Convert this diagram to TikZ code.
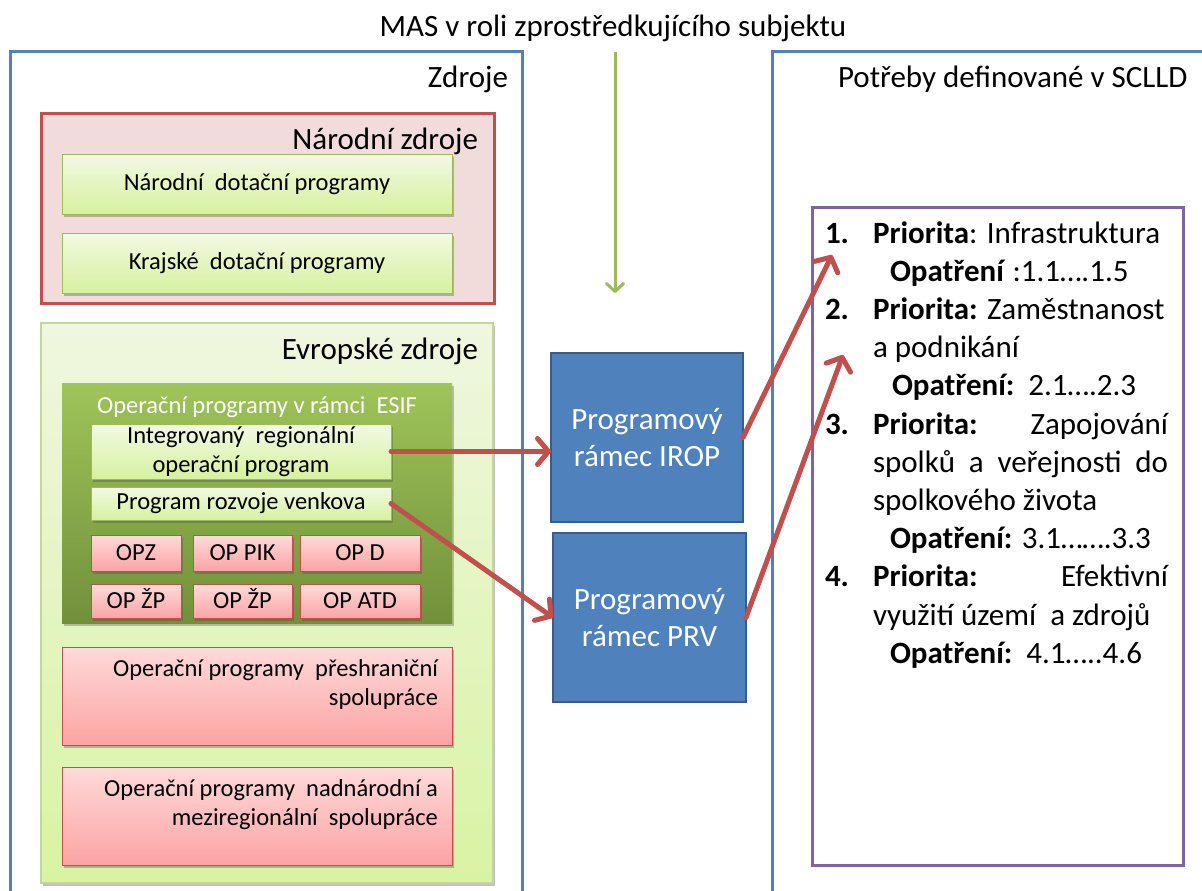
\documentclass[tikz,border=0pt]{standalone}
\usepackage{fontspec}
\setmainfont{Carlito}
\usetikzlibrary{arrows.meta,shadows}
\definecolor{frameblue}{HTML}{4F81BD}
\definecolor{redline}{HTML}{C0504D}
\definecolor{pinkfill}{HTML}{F2DCDB}
\definecolor{greenline}{HTML}{9BBB59}
\definecolor{lgTop}{HTML}{F2F9E4}
\definecolor{lgBot}{HTML}{D6F19E}
\definecolor{euTop}{HTML}{EFF7DF}
\definecolor{euBot}{HTML}{D9F3A3}
\definecolor{euLine}{HTML}{C3D69B}
\definecolor{esTop}{HTML}{9FC45A}
\definecolor{esBot}{HTML}{72903A}
\definecolor{rdTop}{HTML}{FFDADA}
\definecolor{rdBot}{HTML}{FCA3A3}
\definecolor{boxblue}{HTML}{4F81BD}
\definecolor{boxblueline}{HTML}{385D8A}
\definecolor{purpleline}{HTML}{8064A2}
\newcommand\fsBig{\fontsize{31}{37.5}\selectfont}
\newcommand\fsSmall{\fontsize{24.5}{29.5}\selectfont}
\begin{document}
\begin{tikzpicture}[x=1pt,y=-1pt,
  box/.style={rectangle, inner sep=0pt, outer sep=0pt},
  shad/.style={drop shadow={shadow xshift=1.5pt, shadow yshift=-2.5pt, opacity=0.35, fill=black!70}},
  frame/.style={box, draw=frameblue, line width=3pt},
  natbox/.style={box, draw=redline, fill=pinkfill, line width=3pt},
  lgbox/.style={box, draw=greenline, line width=1pt, top color=lgTop, bottom color=lgBot, shad},
  eubox/.style={box, draw=euLine, line width=1.5pt, top color=euTop, bottom color=euBot, shad},
  esbox/.style={box, top color=esTop, bottom color=esBot, shad},
  rdbox/.style={box, draw=redline, line width=1pt, top color=rdTop, bottom color=rdBot, shad},
  opbox/.style={rdbox, font=\fsSmall, text height=16pt, text depth=2pt},
  bluebox/.style={box, draw=boxblueline, fill=boxblue, line width=2.5pt, text=white, align=center, font=\fsBig},
  purplebox/.style={box, draw=purpleline, line width=3pt},
  txt/.style={inner sep=0pt, outer sep=0pt},
  big/.style={txt, font=\fsBig},
  small/.style={txt, font=\fsSmall},
  redarrow/.style={draw=redline, line width=5pt, line cap=round, -{Straight Barb[length=11pt,width=26pt,round]}},
  greenarrow/.style={draw=greenline, line width=3pt, -{Straight Barb[length=8pt,width=17pt,round]}}
]
\path[use as bounding box] (0,0) rectangle (1202,891);
\clip (0,0) rectangle (1202,891);

% frames
\node[frame, minimum width=512pt, minimum height=868pt] (frameL) at (266,486) {};
\node[frame, minimum width=458pt, minimum height=868pt] (frameR) at (1001,486) {};
\node[big, anchor=base] (mas) at (613,37) {MAS v roli zprostředkujícího subjektu};
\node[big, anchor=base east] (zdroje) at (508,88) {Zdroje};
\node[big, anchor=base west] (potreby) at (838,88) {Potřeby definované v SCLLD};

% green arrow
\coordinate (gtop) at (615,52);
\coordinate (gtip) at (615,293);
\draw[greenarrow] (gtop) -- (gtip);

% national sources
\node[natbox, minimum width=453pt, minimum height=190pt] (nat) at (267.5,208) {};
\node[big, anchor=base east] (natT) at (478,149) {Národní zdroje};
\node[lgbox, small, minimum width=390pt, minimum height=60pt] (ndp) at (257,184) {Národní\ \ dotační programy};
\node[lgbox, small, minimum width=390pt, minimum height=60pt] (kdp) at (257,263) {Krajské\ \ dotační programy};

% european sources
\node[eubox, minimum width=452pt, minimum height=560pt] (eu) at (267,603) {};
\node[big, anchor=base east] (euT) at (478,359) {Evropské zdroje};
\node[esbox, minimum width=390pt, minimum height=240pt] (esif) at (257,503) {};
\node[small, anchor=base, text=white] (esifT) at (257,413) {Operační programy v rámci\ \ ESIF};
\node[lgbox, small, align=center, minimum width=300pt, minimum height=55pt] (irg) at (241,451.5) {Integrovaný\ \ regionální\\operační program};
\node[lgbox, small, minimum width=300pt, minimum height=33pt] (prg) at (241,503.5) {Program rozvoje venkova};

\node[opbox, minimum width=90pt, minimum height=36pt] (opz) at (136,553) {OPZ};
\node[opbox, minimum width=99pt, minimum height=36pt] (oppik) at (242.5,553) {OP PIK};
\node[opbox, minimum width=120pt, minimum height=36pt] (opd) at (360,553) {OP D};
\node[opbox, minimum width=90pt, minimum height=34pt] (opzp) at (136,601.5) {OP ŽP};
\node[opbox, minimum width=99pt, minimum height=34pt] (opzpb) at (242.5,601.5) {OP ŽP};
\node[opbox, minimum width=120pt, minimum height=34pt] (opatd) at (360,601.5) {OP ATD};

\node[rdbox, minimum width=390pt, minimum height=98pt] (cbc) at (257,696) {};
\node[small, anchor=base east, align=right] (cbcT) at (438,705.5) {Operační programy\ \ přeshraniční\\spolupráce};
\node[rdbox, minimum width=390pt, minimum height=98pt] (tnc) at (257,816) {};
\node[small, anchor=base east, align=right] (tncT) at (438,825.5) {Operační programy\ \ nadnárodní a\\meziregionální\ \ spolupráce};

% programme frameworks
\node[bluebox, minimum width=192pt, minimum height=169pt] (irb) at (647,437.5) {Programový\\rámec IROP};
\node[bluebox, minimum width=193pt, minimum height=169pt] (prb) at (649.5,617.5) {Programový\\rámec PRV};

% priorities box
\node[purplebox, minimum width=371pt, minimum height=658pt] (prio) at (997.5,536) {};
\node[big, anchor=base west] (n1) at (825,243) {\bfseries 1.};
\node[big, anchor=base west] (l1) at (873,243) {\textbf{Priorita}: Infrastruktura};
\node[big, anchor=base west] (l2) at (890,281.2) {\textbf{Opatření} :1.1….1.5};
\node[big, anchor=base west] (n2) at (825,319.4) {\bfseries 2.};
\node[big, anchor=base west] (l3) at (873,319.4) {\textbf{Priorita:} Zaměstnanost};
\node[big, anchor=base west] (l4) at (873,357.6) {a podnikání};
\node[big, anchor=base west] (l5) at (892,395.8) {\textbf{Opatření:}\ \ 2.1….2.3};
\node[big, anchor=base west] (n3) at (825,434) {\bfseries 3.};
\node[big, anchor=base west] (l6) at (873,434) {\hbox to 295pt{\textbf{Priorita:}\hfill Zapojování}};
\node[big, anchor=base west] (l7) at (873,472.2) {\hbox to 295pt{spolků\hfill a\hfill veřejnosti\hfill do}};
\node[big, anchor=base west] (l8) at (873,510.4) {spolkového života};
\node[big, anchor=base west] (l9) at (890,548.6) {\textbf{Opatření:} 3.1…….3.3};
\node[big, anchor=base west] (n4) at (825,586.8) {\bfseries 4.};
\node[big, anchor=base west] (l10) at (873,586.8) {\hbox to 295pt{\textbf{Priorita:}\hfill Efektivní}};
\node[big, anchor=base west] (l11) at (873,625) {využití území\ \ a zdrojů};
\node[big, anchor=base west] (l12) at (890,663.2) {\textbf{Opatření:}\ \ 4.1…..4.6};

% arrows
\coordinate (t1) at (832,255);
\coordinate (t2) at (843,355);
\draw[redarrow] (irg.east) -- (irg.east -| irb.west);
\draw[redarrow] (prg.east) -- (prb.west);
\draw[redarrow] (irb.east) -- (t1);
\draw[redarrow] (prb.east) -- (t2);
\end{tikzpicture}
\end{document}
